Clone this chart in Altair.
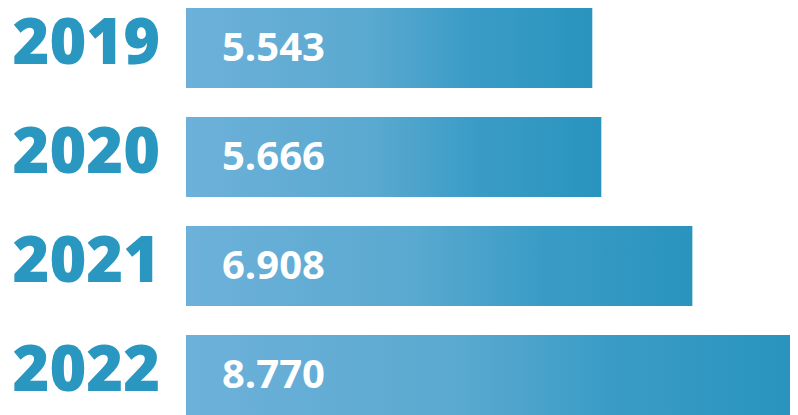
import altair as alt
import pandas as pd

years = ["2019", "2020", "2021", "2022"]
values = [5543, 5666, 6908, 8770]
labels = ["5.543", "5.666", "6.908", "8.770"]

df = pd.DataFrame({"year": years, "value": values, "label": labels})

grad = alt.Gradient(
    gradient="linear",
    stops=[
        alt.GradientStop(color="#6db1da", offset=0),
        alt.GradientStop(color="#5aa9d0", offset=0.45),
        alt.GradientStop(color="#3a9cc6", offset=0.7),
        alt.GradientStop(color="#2994be", offset=1),
    ],
    x1=0, x2=1, y1=0, y2=0,
)

y_enc = alt.Y(
    "year:N",
    sort=years,
    scale=alt.Scale(paddingInner=0.266, paddingOuter=0),
    axis=alt.Axis(
        title=None,
        domain=False,
        ticks=False,
        tickSize=0,
        labelAlign="left",
        labelPadding=174,
        labelOffset=-3,
        labelFont="Open Sans",
        labelFontSize=63,
        labelFontWeight=800,
        labelColor="#2a97c0",
        labelLimit=400,
    ),
)

x_scale = alt.Scale(domain=[0, 8240], clamp=True, nice=False, zero=True)

bars = alt.Chart(df).mark_bar(color=grad).encode(
    x=alt.X("value:Q", scale=x_scale, axis=None),
    y=y_enc,
)

texts = alt.Chart(df).mark_text(
    align="left",
    baseline="middle",
    dx=36,
    dy=1,
    font="Open Sans",
    fontSize=40,
    fontWeight="bold",
    color="white",
).encode(
    x=alt.datum(0, scale=x_scale),
    y=alt.Y("year:N", sort=years),
    text="label:N",
)

chart = (
    alt.layer(bars, texts)
    .properties(
        width=604,
        height=407,
        autosize=alt.AutoSizeParams(type="none"),
        padding={"left": 178, "top": 0, "right": 0, "bottom": 0},
        background="white",
    )
    .configure_view(strokeWidth=0)
)

chart.save("out.html", embed_options={"renderer": "svg", "actions": False})
